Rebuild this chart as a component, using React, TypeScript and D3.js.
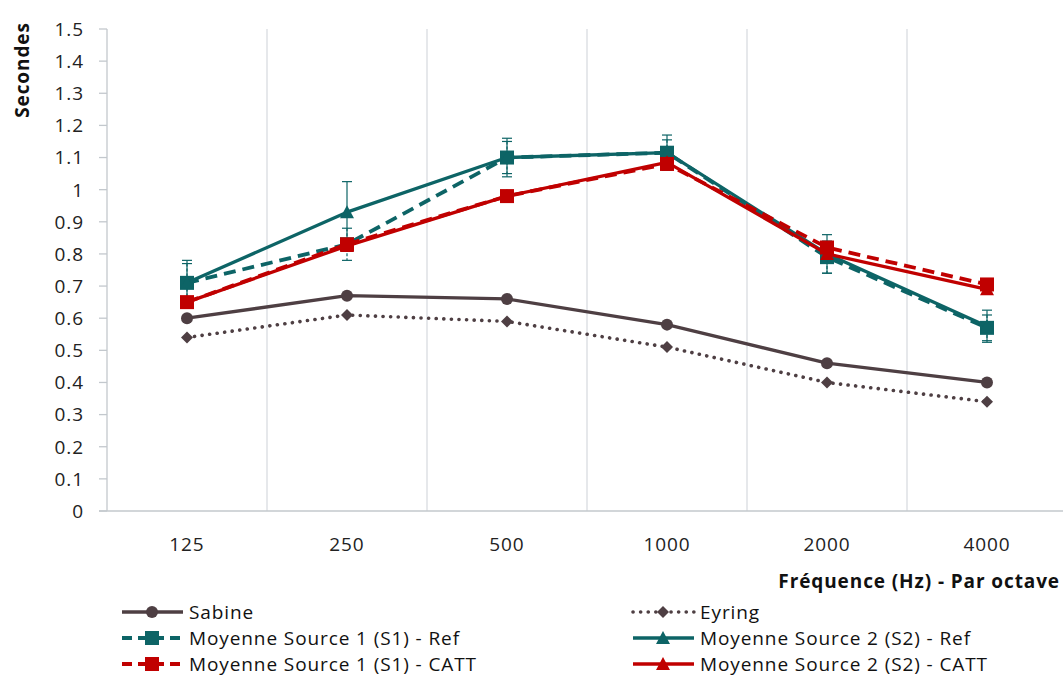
import React from "react";
import * as d3 from "d3";

const categories = ["125", "250", "500", "1000", "2000", "4000"];
const sabine = [0.6, 0.67, 0.66, 0.58, 0.46, 0.4];
const eyring = [0.54, 0.61, 0.59, 0.51, 0.4, 0.34];
const s1Ref = [0.71, 0.83, 1.1, 1.115, 0.79, 0.57];
const s2Ref = [0.71, 0.93, 1.1, 1.115, 0.8, 0.575];
const s1Catt = [0.65, 0.83, 0.98, 1.08, 0.82, 0.705];
const s2Catt = [0.65, 0.825, 0.98, 1.085, 0.8, 0.69];
const s1RefErr = [0.06, 0.05, 0.05, 0.04, 0.05, 0.04];
const s2RefErr = [0.07, 0.095, 0.06, 0.055, 0.06, 0.05];
const yTicks = [0, 0.1, 0.2, 0.3, 0.4, 0.5, 0.6, 0.7, 0.8, 0.9, 1, 1.1, 1.2, 1.3, 1.4, 1.5];

const W = 1063;
const H = 677;
const left = 107;
const right = 1067;
const top = 29;
const bottom = 511;

const BROWN = "#4e3f43";
const TEAL = "#0d6466";
const RED = "#c00000";
const FONT = "'Open Sans', Lato, sans-serif";
const FS = 19;
const LS = 0.9;

type Marker = "circle" | "diamond" | "square" | "triangle";

function MarkerShape({ type, x, y, color }: { type: Marker; x: number; y: number; color: string }) {
  if (type === "circle") return <circle cx={x} cy={y} r={6} fill={color} />;
  if (type === "diamond")
    return <path d={`M${x},${y - 6}L${x + 6},${y}L${x},${y + 6}L${x - 6},${y}Z`} fill={color} />;
  if (type === "square") return <rect x={x - 7} y={y - 7} width={14} height={14} fill={color} />;
  return <path d={`M${x},${y - 7}L${x + 7},${y + 6}L${x - 7},${y + 6}Z`} fill={color} />;
}

interface Series {
  name: string;
  values: number[];
  color: string;
  dash?: string;
  marker: Marker;
  err?: number[];
  errDash?: string;
  width: number;
  cap?: string;
}

const series: Series[] = [
  { name: "Sabine", values: sabine, color: BROWN, marker: "circle", width: 3.3 },
  { name: "Eyring", values: eyring, color: BROWN, marker: "diamond", dash: "0.1,7.5", width: 3.6, cap: "round" },
  { name: "Moyenne Source 1 (S1) - Ref", values: s1Ref, color: TEAL, marker: "square", dash: "12,7", width: 3.8, err: s1RefErr, errDash: "3,2" },
  { name: "Moyenne Source 2 (S2) - Ref", values: s2Ref, color: TEAL, marker: "triangle", width: 3.3, err: s2RefErr },
  { name: "Moyenne Source 1 (S1) - CATT", values: s1Catt, color: RED, marker: "square", dash: "12,7", width: 3.8 },
  { name: "Moyenne Source 2 (S2) - CATT", values: s2Catt, color: RED, marker: "triangle", width: 3.3 },
];

export default function App() {
  const x = d3.scaleBand<string>().domain(categories).range([left, right]);
  const cx = (c: string) => (x(c) ?? 0) + x.bandwidth() / 2;
  const y = d3.scaleLinear().domain([0, 1.5]).range([bottom, top]);
  const line = d3
    .line<number>()
    .x((_, i) => cx(categories[i]))
    .y((d) => y(d));

  const legendRows = [
    [series[0], series[1]],
    [series[2], series[3]],
    [series[4], series[5]],
  ];

  return (
    <svg width={W} height={H} style={{ position: "absolute", left: 0, top: 0, background: "#fff" }} fontFamily={FONT}>
      {/* vertical gridlines */}
      {categories.slice(1).map((c) => (
        <line key={c} x1={x(c)} x2={x(c)} y1={top} y2={bottom} stroke="#d9dce0" strokeWidth={1.3} />
      ))}
      {/* axes */}
      <line x1={left} x2={left} y1={y(1.5)} y2={bottom} stroke="#c3c8cd" strokeWidth={1.3} />
      <line x1={left - 8} x2={right} y1={bottom} y2={bottom} stroke="#c3c8cd" strokeWidth={1.3} />
      {yTicks.map((t) => (
        <g key={t}>
          <line x1={left - 8} x2={left} y1={y(t)} y2={y(t)} stroke="#c3c8cd" strokeWidth={1.3} />
          <text x={84} y={y(t)} dy="0.36em" textAnchor="end" fontSize={FS} letterSpacing={LS} fill="#222">
            {String(t)}
          </text>
        </g>
      ))}
      {categories.map((c) => (
        <text key={c} x={cx(c)} y={544} dy="0.36em" textAnchor="middle" fontSize={FS} letterSpacing={LS} fill="#222">
          {c}
        </text>
      ))}
      <text x={1060} y={581} dy="0.36em" textAnchor="end" fontSize={FS} letterSpacing={LS} fontWeight="bold" fill="#111">
        Fréquence (Hz) - Par octave
      </text>
      <text transform={`translate(29,70) rotate(-90)`} textAnchor="middle" fontSize={FS} letterSpacing={LS} fontWeight="bold" fill="#111">
        Secondes
      </text>

      {/* series */}
      {series.map((s) => (
        <g key={s.name}>
          {s.err &&
            s.values.map((v, i) => {
              const px = cx(categories[i]);
              const e = s.err![i];
              return (
                <g key={i} stroke={s.color} strokeWidth={1.2}>
                  <line x1={px} x2={px} y1={y(v + e)} y2={y(v - e)} strokeDasharray={s.errDash} />
                  <line x1={px - 5} x2={px + 5} y1={y(v + e)} y2={y(v + e)} />
                  <line x1={px - 5} x2={px + 5} y1={y(v - e)} y2={y(v - e)} />
                </g>
              );
            })}
          <path
            d={line(s.values) ?? ""}
            fill="none"
            stroke={s.color}
            strokeWidth={s.width}
            strokeDasharray={s.dash}
            strokeLinecap={(s.cap as any) ?? "butt"}
            strokeLinejoin="round"
          />
          {s.values.map((v, i) => (
            <MarkerShape key={i} type={s.marker} x={cx(categories[i])} y={y(v)} color={s.color} />
          ))}
        </g>
      ))}

      {/* legend */}
      {legendRows.map((row, ri) =>
        row.map((s, ci) => {
          const lx = ci === 0 ? 122 : 633;
          const ly = 612 + ri * 26;
          return (
            <g key={s.name}>
              <line
                x1={lx}
                x2={lx + 61}
                y1={ly}
                y2={ly}
                stroke={s.color}
                strokeWidth={s.width}
                strokeDasharray={s.dash === "12,7" ? "10,6" : s.dash}
                strokeLinecap={(s.cap as any) ?? "butt"}
              />
              <MarkerShape type={s.marker} x={lx + 30} y={ly} color={s.color} />
              <text x={lx + 67} y={ly} dy="0.36em" fontSize={FS} letterSpacing={LS} fill="#111">
                {s.name}
              </text>
            </g>
          );
        })
      )}
    </svg>
  );
}
